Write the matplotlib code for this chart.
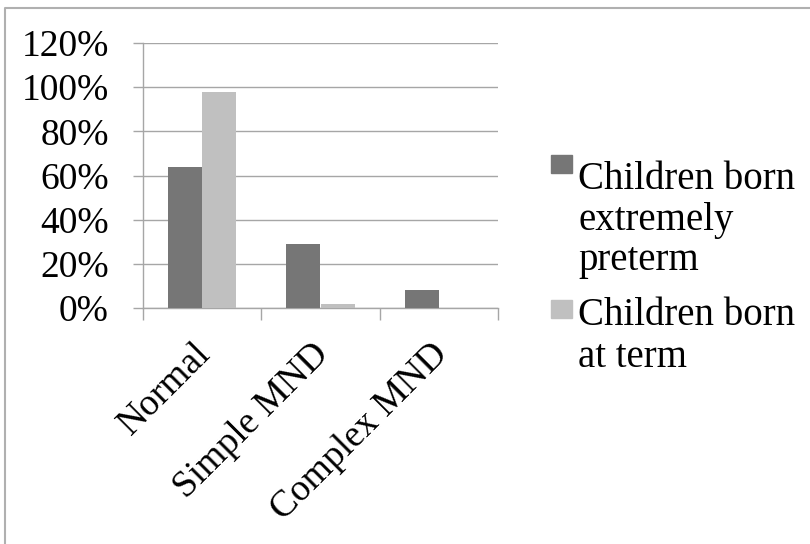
import matplotlib
matplotlib.use("Agg")
import numpy as np
import matplotlib.pyplot as plt
from matplotlib.patches import Rectangle
from matplotlib.lines import Line2D
from matplotlib.transforms import ScaledTranslation

plt.rcParams['font.family'] = ['Liberation Serif', 'DejaVu Serif']

categories = ["Normal", "Simple MND", "Complex MND"]
series_names = [["Children born", "extremely", "preterm"], ["Children born", "at term"]]
preterm = [0.64, 0.29, 0.08]
at_term = [0.98, 0.02, 0.0]
yticks = [0, 0.2, 0.4, 0.6, 0.8, 1.0, 1.2]
ytick_labels = ["0%", "20%", "40%", "60%", "80%", "100%", "120%"]

DARK = "#767676"
LIGHT = "#c0c0c0"
GRID = "#a6a6a6"

W, H = 810, 544
PX = 72 / 100  # points per pixel
fig = plt.figure(figsize=(W / 100, H / 100), dpi=100)
ax = fig.add_axes([143 / W, 1 - 308 / H, (498 - 143) / W, (308 - 43) / H])

x = np.arange(len(categories))
bw = 0.2875
ax.bar(x - bw / 2, preterm, bw, color=DARK, zorder=3)
ax.bar(x + bw / 2, at_term, bw, color=LIGHT, zorder=3)

ax.set_xlim(-0.5, len(categories) - 0.5)
ax.set_ylim(0, 1.2)
ax.set_yticks(yticks)
ax.set_yticklabels(ytick_labels, fontsize=27)
ax.yaxis.grid(True, color=GRID, linewidth=1)
ax.set_axisbelow(True)

# category labels at centres, tick marks at the boundaries
ax.set_xticks(x)
ax.set_xticklabels(categories, fontsize=27, rotation=45, ha="right", va="top",
                   rotation_mode="anchor")
ax.set_xticks(np.arange(len(categories) + 1) - 0.5, minor=True)
ax.tick_params(axis="x", which="major", length=0, pad=22)
ax.tick_params(axis="x", which="minor", length=12 * PX, color=GRID, width=1)
ax.tick_params(axis="y", length=10 * PX, color=GRID, width=1, pad=24 * PX)
shift = ScaledTranslation(-9 / 100, 2 / 100, fig.dpi_scale_trans)
for lab in ax.get_xticklabels():
    lab.set_transform(lab.get_transform() + shift)

for s in ["top", "right"]:
    ax.spines[s].set_visible(False)
for s in ["left", "bottom"]:
    ax.spines[s].set_color(GRID)
    ax.spines[s].set_linewidth(1)

# legend drawn by hand so the squares sit on the first line of each label
legend_square_top = [155, 300]
legend_baselines = [[189, 230, 270], [325, 367]]
for lines, col, top, bases in zip(series_names, [DARK, LIGHT], legend_square_top, legend_baselines):
    fig.patches.append(Rectangle((551 / W, 1 - (top + 18) / H), 21 / W, 18 / H,
                                 transform=fig.transFigure, color=col))
    for txt, b in zip(lines, bases):
        fig.text(578 / W, 1 - b / H, txt, fontsize=28, va="baseline", ha="left")

# outer frame (only left and top edges visible in the original)
fig.lines.append(Line2D([5 / W, 5 / W, 1.1], [-0.1, 1 - 8 / H, 1 - 8 / H],
                        transform=fig.transFigure, color="#b0b0b0", linewidth=1.5))

fig.savefig("out.png", dpi=100)
